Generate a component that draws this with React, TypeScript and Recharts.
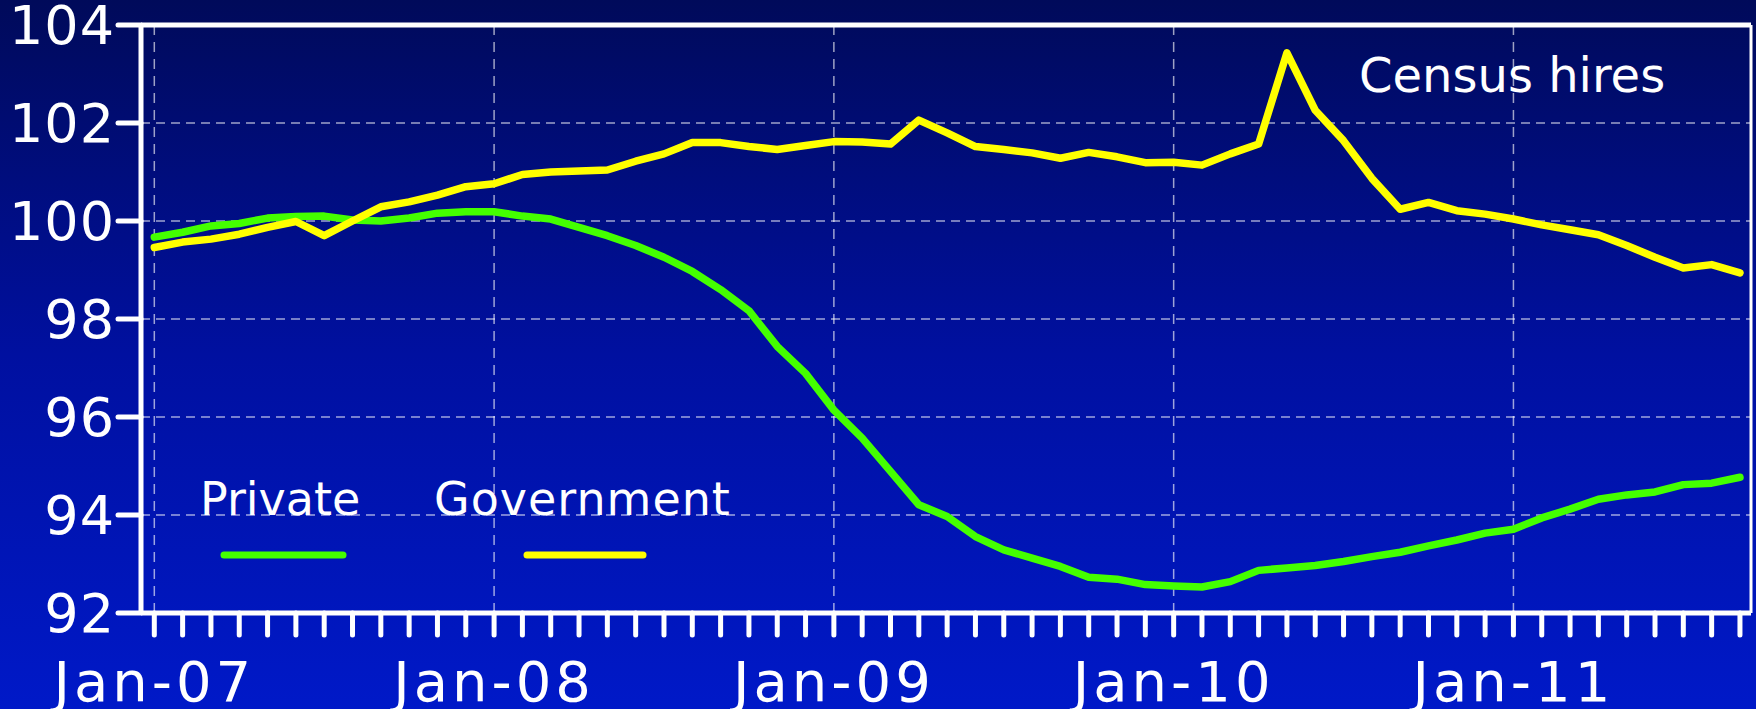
import { LineChart, Line, XAxis, YAxis, CartesianGrid, ReferenceLine } from "recharts";

// monthly, Jan-07 .. Sep-11, index Jan-07 = 100
const months = [
  "Jan-07", "Feb-07", "Mar-07", "Apr-07", "May-07", "Jun-07", "Jul-07", "Aug-07", "Sep-07", "Oct-07", "Nov-07", "Dec-07",
  "Jan-08", "Feb-08", "Mar-08", "Apr-08", "May-08", "Jun-08", "Jul-08", "Aug-08", "Sep-08", "Oct-08", "Nov-08", "Dec-08",
  "Jan-09", "Feb-09", "Mar-09", "Apr-09", "May-09", "Jun-09", "Jul-09", "Aug-09", "Sep-09", "Oct-09", "Nov-09", "Dec-09",
  "Jan-10", "Feb-10", "Mar-10", "Apr-10", "May-10", "Jun-10", "Jul-10", "Aug-10", "Sep-10", "Oct-10", "Nov-10", "Dec-10",
  "Jan-11", "Feb-11", "Mar-11", "Apr-11", "May-11", "Jun-11", "Jul-11", "Aug-11", "Sep-11",
];

const privateIdx = [
  99.67, 99.77, 99.9, 99.95, 100.06, 100.09, 100.1, 100.02, 100.0, 100.06, 100.16, 100.19,
  100.19, 100.1, 100.04, 99.87, 99.7, 99.5, 99.26, 98.97, 98.6, 98.17, 97.44, 96.89,
  96.14, 95.57, 94.89, 94.21, 93.97, 93.56, 93.29, 93.12, 92.95, 92.73, 92.69, 92.58,
  92.55, 92.53, 92.64, 92.87, 92.92, 92.97, 93.05, 93.15, 93.24, 93.37, 93.49, 93.63,
  93.71, 93.94, 94.12, 94.32, 94.41, 94.47, 94.62, 94.65, 94.77,
];

const governmentIdx = [
  99.46, 99.57, 99.63, 99.73, 99.87, 99.99, 99.7, 100.0, 100.29, 100.39, 100.53, 100.7,
  100.76, 100.95, 101.0, 101.02, 101.04, 101.22, 101.37, 101.6, 101.6, 101.52, 101.46, 101.54,
  101.62, 101.61, 101.57, 102.06, 101.8, 101.52, 101.46, 101.39, 101.28, 101.4, 101.31, 101.19,
  101.2, 101.14, 101.37, 101.57, 103.43, 102.26, 101.64, 100.87, 100.24, 100.38, 100.21, 100.14,
  100.04, 99.92, 99.82, 99.72, 99.5, 99.26, 99.04, 99.11, 98.94,
];

const yTicks = [92, 94, 96, 98, 100, 102, 104];
const yGrid = [94, 96, 98, 100, 102];
const yearStarts = ["Jan-07", "Jan-08", "Jan-09", "Jan-10", "Jan-11"];

const PRIVATE_COLOR = "#44ff00";
const GOV_COLOR = "#ffff00";
const GRID = "rgba(255,255,255,0.62)";
const FONT = "'DejaVu Sans', sans-serif";

const data = months.map((m, i) => ({
  i,
  month: m,
  private: privateIdx[i],
  government: governmentIdx[i],
}));
const monthTicks = months.map((_, i) => i);
const yearTicks = yearStarts.map((y) => months.indexOf(y));

const X_MIN = -0.47;
const X_MAX = 56.39;

export default function App() {
  return (
    <div
      style={{
        position: "relative",
        width: 1756,
        height: 709,
        background: "linear-gradient(to bottom, #000a5a 0%, #0010a0 50%, #0019c8 100%)",
        fontFamily: FONT,
        overflow: "hidden",
      }}
    >
      <style>{"body{margin:0}"}</style>
      <LineChart
        width={1756}
        height={709}
        data={data}
        margin={{ top: 25, right: 5, left: 0, bottom: 0 }}
      >
        <CartesianGrid
          vertical={false}
          horizontalValues={yGrid}
          stroke={GRID}
          strokeWidth={1.5}
          strokeDasharray="9 6"
        />
        <CartesianGrid
          horizontal={false}
          verticalValues={yearTicks}
          stroke={GRID}
          strokeWidth={1.5}
          strokeDasharray="10 7"
        />
        <XAxis
          dataKey="i"
          type="number"
          domain={[X_MIN, X_MAX]}
          allowDataOverflow
          ticks={monthTicks}
          interval={0}
          height={96}
          tickSize={22}
          tickMargin={26}
          tickFormatter={(v: number) => (months[v] && months[v].startsWith("Jan") ? months[v] : "")}
          tick={{ fill: "#fff", fontSize: 56, fontFamily: FONT, letterSpacing: 4 }}
          tickLine={{ stroke: "#fff", strokeWidth: 5, strokeLinecap: "round" }}
          axisLine={{ stroke: "#fff", strokeWidth: 5 }}
        />
        <YAxis
          type="number"
          domain={[92, 104]}
          allowDataOverflow
          ticks={yTicks}
          interval={0}
          width={141}
          tickSize={23}
          tickMargin={3}
          tick={{ fill: "#fff", fontSize: 54, fontFamily: FONT, letterSpacing: 1 }}
          tickLine={{ stroke: "#fff", strokeWidth: 5, strokeLinecap: "round" }}
          axisLine={{ stroke: "#fff", strokeWidth: 5 }}
        />
        <ReferenceLine y={104} stroke="#fff" strokeWidth={5} />
        <ReferenceLine x={X_MAX} stroke="#fff" strokeWidth={3} />
        <Line
          type="linear"
          dataKey="private"
          stroke={PRIVATE_COLOR}
          strokeWidth={7.5}
          strokeLinecap="round"
          strokeLinejoin="round"
          dot={false}
          activeDot={false}
          isAnimationActive={false}
        />
        <Line
          type="linear"
          dataKey="government"
          stroke={GOV_COLOR}
          strokeWidth={7.5}
          strokeLinecap="round"
          strokeLinejoin="round"
          dot={false}
          activeDot={false}
          isAnimationActive={false}
        />
      </LineChart>

      {/* legend + annotation */}
      <svg
        width={1756}
        height={709}
        style={{ position: "absolute", left: 0, top: 0, pointerEvents: "none" }}
      >
        <g fontFamily={FONT} fill="#fff">
          <text x={200} y={515} fontSize={46}>Private</text>
          <text x={434} y={515} fontSize={46} letterSpacing={1}>Government</text>
          <text x={1359} y={92} fontSize={48}>Census hires</text>
        </g>
        <line x1={224} y1={555} x2={343} y2={555} stroke={PRIVATE_COLOR} strokeWidth={7} strokeLinecap="round" />
        <line x1={527} y1={555} x2={643} y2={555} stroke={GOV_COLOR} strokeWidth={7} strokeLinecap="round" />
      </svg>
    </div>
  );
}
